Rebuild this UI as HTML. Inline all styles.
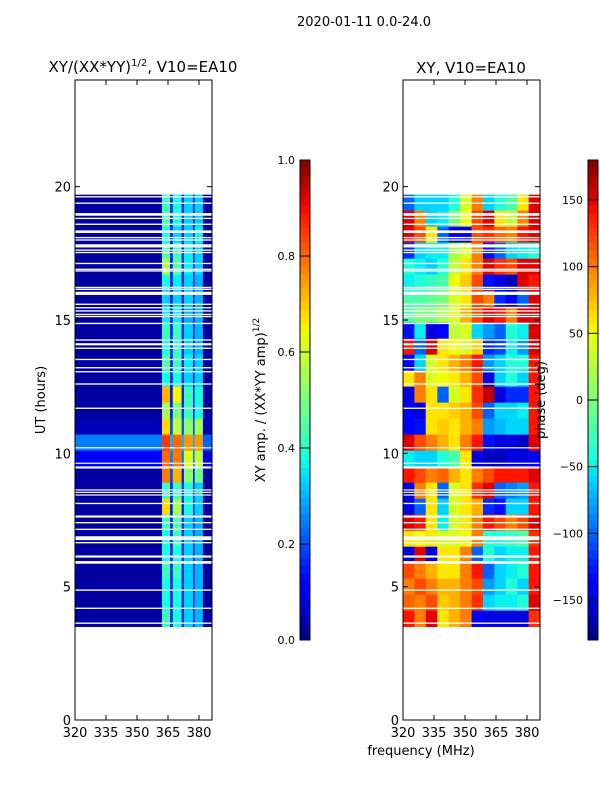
<!DOCTYPE html>
<html><head><meta charset="utf-8">
<style>
html,body{margin:0;padding:0;background:#fff;}
body{width:600px;height:800px;overflow:hidden;font-family:"Liberation Sans","DejaVu Sans",sans-serif;}
svg text{font-family:"DejaVu Sans","Liberation Sans",sans-serif;fill:#000;}
</style></head>
<body>
<svg id="fig" width="600" height="800" xmlns="http://www.w3.org/2000/svg">
<text x="364" y="26" font-size="13" text-anchor="middle">2020-01-11 0.0-24.0</text>
<text x="143" y="72" font-size="15" text-anchor="middle">XY/(XX*YY)<tspan font-size="10" dy="-6">1/2</tspan><tspan dy="6">, V10=EA10</tspan></text>
<text x="471" y="73" font-size="15" text-anchor="middle">XY, V10=EA10</text>
<text transform="translate(45,400) rotate(-90)" font-size="13" text-anchor="middle">UT (hours)</text>
<text x="421" y="755" font-size="13" text-anchor="middle">frequency (MHz)</text>
<text transform="translate(265,400) rotate(-90)" font-size="13" text-anchor="middle">XY amp. / (XX*YY amp)<tspan font-size="9" dy="-6">1/2</tspan></text>
<g id="left"></g>
<g id="right"></g>
<g id="cb1"></g>
<g id="cb2"></g>
<text transform="translate(545,400) rotate(-90)" font-size="13" text-anchor="middle">phase (deg)</text>
</svg>
<script>
// ---- data ----
const xTicks = [320, 335, 350, 365, 380];
const yTicks = [0, 5, 10, 15, 20];
const ampTicks = [0.0, 0.2, 0.4, 0.6, 0.8, 1.0];
const phaseTicks = [-150, -100, -50, 0, 50, 100, 150];
const utTop = 19.7;
const utBottom = 3.5;
const ampFreqEdges = [320, 362.1, 366, 367.3, 371.6, 372.7, 377.1, 377.9, 381.9, 386.3];
const ampRows = [
[.03,.42,.15,.38,.15,.33,.15,.33,.03],
[.03,.45,.15,.38,.15,.33,.15,.33,.03],
[.03,.38,.15,.33,.15,.33,.15,.36,.03],
[.03,.45,.15,.42,.15,.36,.15,.33,.03],
[.03,.55,.15,.45,.15,.36,.15,.33,.03],
[.03,.38,.15,.36,.15,.33,.15,.3,.03],
[.03,.33,.14,.33,.14,.33,.14,.3,.03],
[.03,.36,.14,.36,.14,.3,.14,.3,.03],
[.03,.42,.15,.42,.15,.33,.15,.3,.03],
[.03,.38,.15,.42,.15,.33,.15,.3,.03],
[.03,.45,.15,.42,.15,.36,.15,.33,.03],
[.03,.38,.15,.38,.15,.33,.15,.33,.03],
[.03,.72,.15,.65,.15,.42,.15,.38,.03],
[.03,.55,.15,.5,.15,.42,.15,.38,.03],
[.05,.68,.2,.58,.2,.52,.2,.55,.05],
[.25,.85,.3,.8,.3,.75,.3,.75,.22],
[.12,.8,.25,.78,.25,.62,.25,.58,.1],
[.03,.78,.2,.72,.15,.52,.15,.48,.03],
[.03,.42,.15,.42,.15,.38,.15,.33,.03],
[.03,.68,.15,.55,.15,.38,.15,.33,.03],
[.03,.42,.15,.45,.15,.33,.15,.3,.03],
[.03,.38,.15,.42,.15,.33,.15,.3,.03],
[.03,.38,.15,.38,.15,.33,.15,.3,.03],
[.03,.42,.15,.42,.15,.33,.15,.3,.03],
[.03,.38,.15,.38,.15,.33,.15,.3,.03],
[.03,.38,.15,.38,.15,.33,.15,.3,.03],
[.03,.42,.15,.38,.15,.33,.15,.3,.03]
];
const phaseFreqEdges = [320, 325.5, 331, 336.6, 342.1, 347.6, 353.2, 358.7, 364.2, 369.7, 375.3, 380.8, 386.3];
const phaseRows = [
[-100,-60,-60,-60,-40,40,100,-60,-40,-20,60,150],
[150,100,-60,-50,0,50,120,150,60,30,100,150],
[150,120,60,-100,-150,-150,120,130,110,100,140,150],
[-120,-60,-50,-50,20,40,100,-130,-100,-60,-50,-40],
[-40,-50,-60,-40,30,60,100,150,130,120,150,150],
[-50,-40,-30,-20,50,70,120,-130,-150,-160,150,140],
[-20,-20,-10,0,40,60,120,100,-120,-140,-100,150],
[-20,0,0,20,40,80,120,150,140,100,150,150],
[-130,-50,-150,-140,30,40,-60,-80,-100,-40,-50,150],
[140,-100,150,60,50,40,70,-120,-110,-50,-80,150],
[-140,-60,40,60,80,100,140,-80,-60,-40,-40,140],
[60,100,40,50,60,80,120,-150,-60,-40,-60,140],
[-150,100,60,-100,40,60,130,160,-150,-120,-120,140],
[-140,-150,60,60,70,80,120,-100,-60,-60,-50,140],
[-140,-130,60,70,60,80,100,-80,-70,-60,-60,140],
[150,120,100,80,60,100,140,-130,-150,-150,-160,150],
[-50,-60,-60,-40,-20,60,-150,-160,-160,-150,-150,-140],
[140,120,100,110,80,60,100,120,140,140,140,150],
[-150,100,60,-100,40,60,130,150,-100,-90,-80,140],
[-150,-100,60,-60,40,60,80,-120,-130,-60,-60,140],
[150,140,60,-50,40,60,100,140,120,100,120,150],
[60,50,60,40,40,50,100,-40,-40,-30,-20,130],
[-150,150,-150,60,60,100,-100,-40,-60,-50,-50,140],
[120,100,80,60,60,100,140,-100,-60,-50,-40,140],
[100,120,100,80,80,100,120,-80,-60,-40,-60,140],
[110,100,120,70,80,100,130,-60,-50,-50,-40,150],
[140,100,150,60,80,100,-140,-150,-150,-150,-150,130]
];
const flaggedUT = [19.62,19.38,18.96,18.81,18.59,18.31,18.09,18.0,17.78,17.62,17.53,17.12,16.90,16.84,16.22,16.15,16.0,15.59,15.46,15.34,15.21,15.13,14.87,14.25,14.09,13.94,13.52,13.21,13.06,12.60,11.69,10.21,9.63,9.47,8.63,8.54,8.44,8.12,7.63,7.40,7.15,6.84,6.77,6.65,6.13,5.91,4.87,4.19,3.63];
const flaggedWidth = [0.05,0.05,0.1,0.05,0.05,0.1,0.05,0.05,0.12,0.05,0.05,0.05,0.05,0.05,0.05,0.05,0.12,0.05,0.05,0.05,0.05,0.05,0.05,0.05,0.08,0.05,0.05,0.05,0.05,0.05,0.05,0.04,0.04,0.08,0.04,0.04,0.04,0.05,0.08,0.05,0.05,0.1,0.05,0.05,0.08,0.1,0.05,0.05,0.05];

// ---- helpers ----
const NS = "http://www.w3.org/2000/svg";
function jet(t){
  t=Math.max(0,Math.min(1,t));
  function seg(x,pts){for(let i=0;i<pts.length-1;i++){const a=pts[i],b=pts[i+1];if(x>=a[0]&&x<=b[0]){return a[1]+(b[1]-a[1])*(x-a[0])/(b[0]-a[0]);}}return pts[pts.length-1][1];}
  const r=seg(t,[[0,0],[0.35,0],[0.66,1],[0.89,1],[1,0.5]]);
  const g=seg(t,[[0,0],[0.125,0],[0.375,1],[0.64,1],[0.91,0],[1,0]]);
  const b=seg(t,[[0,0.5],[0.11,1],[0.34,1],[0.65,0],[1,0]]);
  return `rgb(${Math.round(r*255)},${Math.round(g*255)},${Math.round(b*255)})`;
}
function el(tag, attrs, parent){const e=document.createElementNS(NS,tag);for(const k in attrs)e.setAttribute(k,attrs[k]);parent.appendChild(e);return e;}

const Y0=80,Y1=720,W=137,XMIN=320,XMAX=386.3,UTMAX=24;
function yScale(ut){return Y1-(ut/UTMAX)*(Y1-Y0);}

function panel(g, left, edges, rows, colorFn, name){
  const xs = f => left + (f-XMIN)/(XMAX-XMIN)*W;
  const n = rows.length, step=(utTop-utBottom)/n;
  rows.forEach((row,i)=>{
    const t1=utTop-i*step, t0=t1-step;
    row.forEach((v,j)=>{
      const r=el('rect',{x:xs(edges[j]),y:yScale(t1),width:xs(edges[j+1])-xs(edges[j])+0.3,height:yScale(t0)-yScale(t1)+0.3,fill:colorFn(v)},g);
      
      
    });
  });
  flaggedUT.forEach((u,k)=>{
    const w=flaggedWidth[k];
    const r=el('rect',{x:left,y:yScale(u+w/2),width:W,height:Math.max(1.2,yScale(u-w/2)-yScale(u+w/2)),fill:'#fff'},g);
    
    
  });
  const fr=el('rect',{x:left,y:Y0,width:W,height:Y1-Y0,fill:'none',stroke:'#000','stroke-width':1},g);
  
  
  xTicks.forEach(v=>{
    const x=xs(v);
    el('line',{x1:x,x2:x,y1:Y1,y2:Y1-5,stroke:'#000'},g);
    el('line',{x1:x,x2:x,y1:Y0,y2:Y0+5,stroke:'#000'},g);
    const t=el('text',{x:x,y:Y1+17,'font-size':13,'text-anchor':'middle'},g);
    t.textContent=v;
    
    
  });
  yTicks.forEach(v=>{
    const y=yScale(v);
    el('line',{x1:left,x2:left+5,y1:y,y2:y,stroke:'#000'},g);
    el('line',{x1:left+W,x2:left+W-5,y1:y,y2:y,stroke:'#000'},g);
    const t=el('text',{x:left-4,y:y+5,'font-size':13,'text-anchor':'end'},g);
    t.textContent=v;
    
    
  });
}
panel(document.getElementById('left'),75,ampFreqEdges,ampRows,v=>jet(v),'amplitude');
panel(document.getElementById('right'),403,phaseFreqEdges,phaseRows,v=>jet((v+180)/360),'phase');

function colorbar(g,x,vmin,vmax,ticks,fmt){
  const top=160,bot=640,N=64;
  for(let i=0;i<N;i++){
    el('rect',{x:x,y:bot-(i+1)*(bot-top)/N,width:10,height:(bot-top)/N+0.5,fill:jet((i+0.5)/N)},g);
  }
  el('rect',{x:x,y:top,width:10,height:bot-top,fill:'none',stroke:'#000','stroke-width':1},g);
  ticks.forEach(v=>{
    const y=bot-(v-vmin)/(vmax-vmin)*(bot-top);
    el('line',{x1:x,x2:x+10,y1:y,y2:y,stroke:'#000'},g);
    const t=el('text',{x:x-5,y:y+4,'font-size':11,'text-anchor':'end'},g);
    t.textContent=fmt(v);
    
    
  });
}
colorbar(document.getElementById('cb1'),300,0,1,ampTicks,v=>v.toFixed(1));
colorbar(document.getElementById('cb2'),588,-180,180,phaseTicks,v=>(v<0?'\u2212'+(-v):''+v));
</script>
</body></html>
